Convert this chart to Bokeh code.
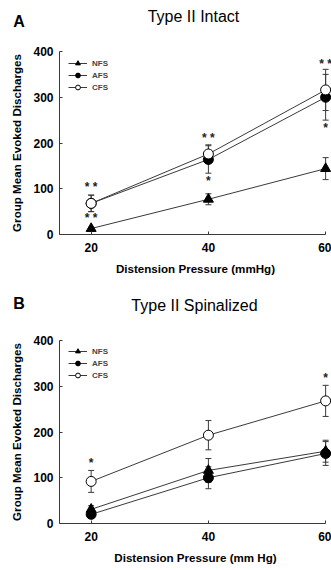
from bokeh.plotting import figure
from bokeh.models import Range1d, ColumnDataSource, Whisker, TeeHead, Legend, LegendItem
from bokeh.layouts import column
from bokeh.embed import file_html
from bokeh.resources import INLINE
from bokeh.core.properties import value

FONT = "Liberation Sans"
pressure = [20, 40, 60]

# Panel A: Type II Intact
a_nfs = [13, 77, 144]
a_nfs_err = [3, 12, 24]
a_afs = [68, 164, 300]
a_afs_err = [18, 30, 50]
a_cfs = [68, 176, 316]
a_cfs_err = [18, 20, 45]
a_star_x = [20, 20, 40, 40, 60, 60]
a_star_y = [104, 35, 212, 118, 373, 233]
a_star_t = ["* *", "* *", "* *", "*", "* *", "*"]

# Panel B: Type II Spinalized
b_nfs = [31, 116, 158]
b_nfs_err = [8, 26, 24]
b_afs = [20, 100, 153]
b_afs_err = [6, 24, 26]
b_cfs = [92, 193, 268]
b_cfs_err = [24, 32, 34]
b_star_x = [20, 60]
b_star_y = [132, 318]
b_star_t = ["*", "*"]

LINE = "#3a3a3a"
W = 331


def make_header(letter, title, letter_base, title_base, title_x):
    h = figure(width=W, height=40, output_backend="svg", toolbar_location=None,
               x_range=Range1d(0, W), y_range=Range1d(0, 40), title=None,
               min_border=0, outline_line_color=None)
    try:
        h.frame_align = False
    except Exception:
        pass
    h.axis.visible = False
    h.grid.visible = False
    h.text(x=[12.7], y=[letter_base], text=[letter], text_align="left",
           text_baseline="alphabetic", text_font=value(FONT), text_font_style="bold",
           text_font_size="16px", text_color="black")
    h.text(x=[title_x], y=[title_base], text=[title], text_align="center",
           text_baseline="alphabetic", text_font=value(FONT), text_font_style="normal",
           text_font_size="16px", text_color="black")
    return h


def make_panel(xlabel, nfs, nfs_e, afs, afs_e, cfs, cfs_e, sx, sy, st,
               height, top, bottom, legend_y):
    p = figure(width=W, height=height, output_backend="svg", toolbar_location=None,
               x_range=Range1d(14.6, 61.0), y_range=Range1d(0, 400), title=None,
               min_border_left=59, min_border_right=0, min_border_top=top,
               min_border_bottom=bottom)
    p.xgrid.visible = False
    p.ygrid.visible = False
    p.outline_line_color = None

    for ax in (p.xaxis[0], p.yaxis[0]):
        ax.axis_line_color = LINE
        ax.major_tick_line_color = LINE
        ax.major_tick_in = 3
        ax.major_tick_out = 0
        ax.minor_tick_line_color = None
        ax.major_label_text_font = FONT
        ax.major_label_text_font_style = "bold"
        ax.major_label_text_font_size = "12px"
        ax.major_label_text_color = "black"
        ax.axis_label_text_font = FONT
        ax.axis_label_text_font_style = "bold"
        ax.axis_label_text_font_size = "11.6px"
        ax.axis_label_text_color = "black"
    p.xaxis[0].bounds = (14.6, 60)
    p.xaxis[0].ticker = pressure
    p.yaxis[0].ticker = [0, 100, 200, 300, 400]
    p.xaxis[0].axis_label = xlabel
    p.yaxis[0].axis_label = "Group Mean Evoked Discharges"
    p.xaxis[0].major_label_standoff = 8
    p.xaxis[0].axis_label_standoff = 7
    p.yaxis[0].major_label_standoff = 6
    p.yaxis[0].axis_label_standoff = 7

    series = [
        ("NFS", nfs, nfs_e, "triangle", "black"),
        ("AFS", afs, afs_e, "circle", "black"),
        ("CFS", cfs, cfs_e, "circle", "white"),
    ]
    items = []
    for name, vals, errs, marker, fill in series:
        src = ColumnDataSource(dict(x=pressure, y=vals,
                                    up=[v + e for v, e in zip(vals, errs)],
                                    lo=[v - e for v, e in zip(vals, errs)]))
        w = Whisker(source=src, base="x", upper="up", lower="lo", line_color=LINE,
                    line_width=1,
                    upper_head=TeeHead(size=6, line_color=LINE, line_width=1),
                    lower_head=TeeHead(size=6, line_color=LINE, line_width=1))
        p.add_layout(w)
        ln = p.line("x", "y", source=src, line_color=LINE, line_width=1)
        sc = p.scatter("x", "y", source=src, marker=marker, size=10,
                       fill_color=fill, line_color="black", line_width=1)
        items.append(LegendItem(label=name, renderers=[ln, sc]))

    p.text(x=sx, y=sy, text=st, text_align="center", text_baseline="middle",
           text_font=value(FONT), text_font_style="bold", text_font_size="12px",
           text_color="#222222")

    leg = Legend(items=items, location=(9, legend_y), padding=0, margin=0, spacing=0,
                 glyph_width=19, glyph_height=12, label_height=12, label_standoff=5,
                 label_text_font=FONT, label_text_font_style="bold",
                 label_text_font_size="8px", background_fill_alpha=0,
                 border_line_color=None)
    p.add_layout(leg, "center")
    return p


h1 = make_header("A", "Type II Intact", 19.3, 24.3, 193)
p1 = make_panel("Distension Pressure (mmHg)",
                a_nfs, a_nfs_err, a_afs, a_afs_err, a_cfs, a_cfs_err,
                a_star_x, a_star_y, a_star_t, 245, 11, 51, 141)
h2 = make_header("B", "Type II Spinalized", 22, 20, 194)
p2 = make_panel("Distension Pressure (mm Hg)",
                b_nfs, b_nfs_err, b_afs, b_afs_err, b_cfs, b_cfs_err,
                b_star_x, b_star_y, b_star_t, 243, 15, 45, 142)

layout = column(h1, p1, h2, p2, spacing=0)
open("out.html", "w").write(file_html(layout, INLINE))
